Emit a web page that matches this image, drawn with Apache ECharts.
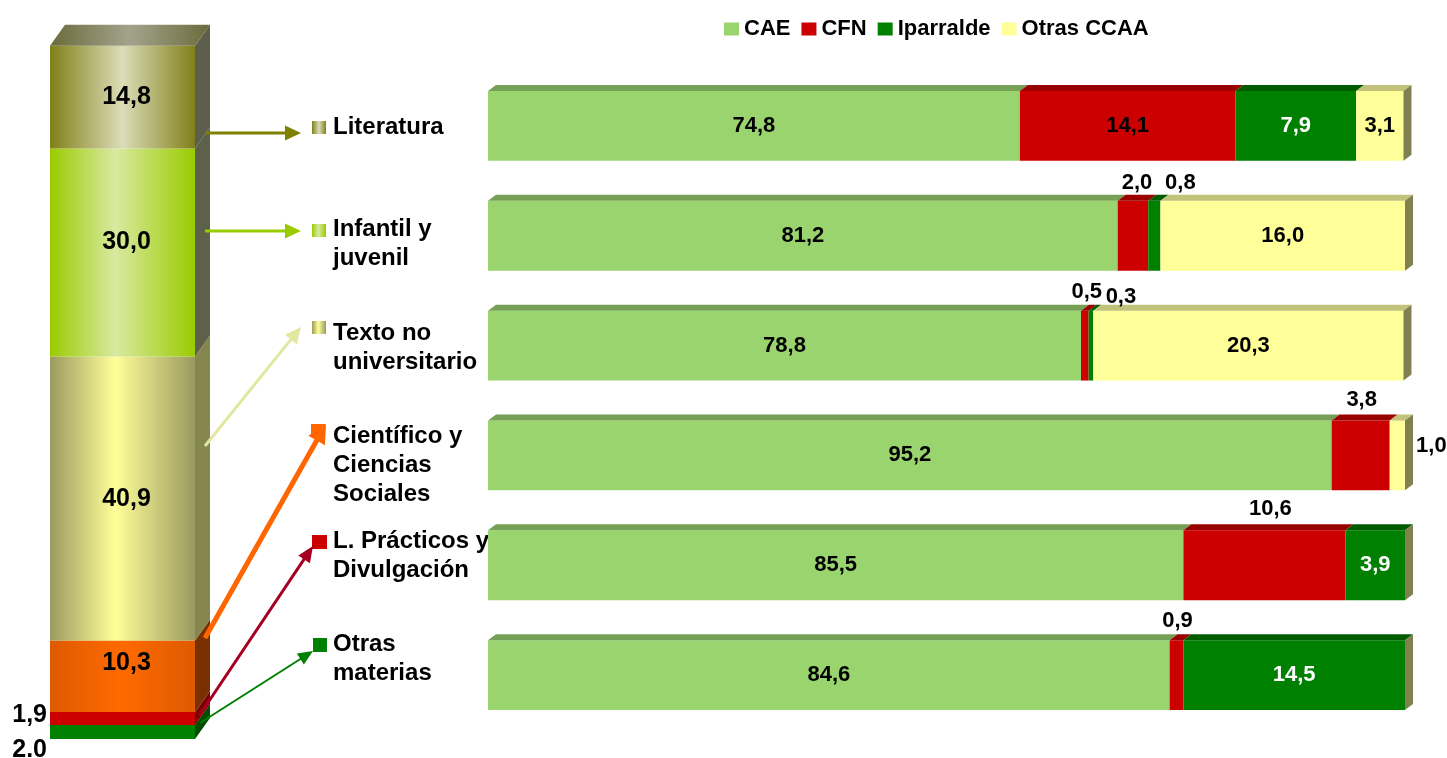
<!DOCTYPE html>
<html>
<head>
<meta charset="utf-8">
<script src="https://cdn.jsdelivr.net/npm/echarts/dist/echarts.min.js"></script>
<style>
  html, body { margin: 0; padding: 0; background: #fff; }
  #chart { width: 1447px; height: 758px; }
</style>
</head>
<body>
<div id="chart"></div>
<script>
// ---- datos ----
const categories = ['Literatura', 'Infantil y\njuvenil', 'Texto no\nuniversitario',
  'Científico y\nCiencias\nSociales', 'L. Prácticos y\nDivulgación', 'Otras\nmaterias'];
const seriesNames = ['CAE', 'CFN', 'Iparralde', 'Otras CCAA'];
const cae       = [74.8, 81.2, 78.8, 95.2, 85.5, 84.6];
const cfn       = [14.1, 2.0, 0.5, 3.8, 10.6, 0.9];
const iparralde = [7.9, 0.8, 0.3, 0, 3.9, 14.5];
const otras     = [3.1, 16.0, 20.3, 1.0, 0, 0];

// columna de la izquierda (de abajo a arriba)
const colValues = [2.0, 1.9, 10.3, 40.9, 30.0, 14.8];
const colLabels = ['2.0', '1,9', '10,3', '40,9', '30,0', '14,8'];

const X_MIN = 40, X_MAX = 100;
const FONT = '"Liberation Sans", Arial, sans-serif';

// ---- estilos ----
const frontColors = ['#9AD46E', '#CC0000', '#008000', '#FFFF99'];
const topColors   = ['#76A055', '#990000', '#005A00', '#C2C27A'];
const sideColor = '#808050';
const labelColors = ['#000', '#000', '#fff', '#000'];
const DX = 8, DY = 6;

// etiquetas fuera de la barra: desplazamiento desde el centro del segmento
const outsideLabels = {
  '1-1': [4, -53], '1-2': [26, -53],
  '2-1': [2, -54], '2-2': [30, -49],
  '3-1': [1, -55], '3-3': [34, -9],
  '4-1': [6, -56],
  '5-1': [1, -54]
};

function hGrad(edge, mid, pos) {
  return { type: 'linear', x: 0, y: 0, x2: 1, y2: 0,
    colorStops: [{ offset: 0, color: edge }, { offset: pos, color: mid }, { offset: 1, color: edge }] };
}
const colFront = [
  '#008000',
  '#CC0000',
  hGrad('#DE5A00', '#FF6A00', 0.5),
  hGrad('#9A9A60', '#FFFF99', 0.45),
  hGrad('#99CC00', '#D9E9A0', 0.45),
  hGrad('#80801A', '#DCDCB8', 0.5)
];
const colSide = ['#004C00', '#7A0000', '#7A3000', '#86864F', '#5D6149', '#5E5E4C'];
const colTop = hGrad('#6B6B3C', '#A3A38C', 0.5);
const CDX = 15, CDY = 21;
const colLabelPos = [
  { side: true, dy: 18 }, { side: true, dy: -3 },
  { side: false, dy: -13 }, { side: false, dy: 1 },
  { side: false, dy: -10 }, { side: false, dy: 0 }
];
// desplazamiento vertical de los nombres de categoría
const labelShift = [1, 8, 2, 10, -9, -16];
const LABEL_GAP = 155;

const fmt = v => v.toFixed(1).replace('.', ',');

// ---- datos de las series apiladas ----
const stackValues = [cae, cfn, iparralde, otras];
function stackData(s) {
  return categories.map((c, i) => {
    let start = 0;
    for (let k = 0; k < s; k++) start += stackValues[k][i];
    const v = stackValues[s][i];
    let last = 1;
    for (let k = s + 1; k < stackValues.length; k++) if (stackValues[k][i] > 0) last = 0;
    return [i, start, start + v, v, s, last];
  });
}

function renderBar(params, api) {
  const cat = api.value(0), v = api.value(3), s = api.value(4), last = api.value(5);
  const start = Math.max(api.value(1), X_MIN), end = api.value(2);
  if (!(v > 0)) return;
  const band = api.size([0, 1])[1];
  const h = band * 0.636;
  const p1 = api.coord([start, cat]), p2 = api.coord([end, cat]);
  const x1 = p1[0], x2 = p2[0], yc = p1[1], y1 = yc - h / 2, y2 = yc + h / 2;
  const children = [
    { type: 'rect', shape: { x: x1, y: y1, width: x2 - x1, height: h }, style: { fill: frontColors[s] } },
    { type: 'polygon', shape: { points: [[x1, y1], [x2, y1], [x2 + DX, y1 - DY], [x1 + DX, y1 - DY]] },
      style: { fill: topColors[s] } }
  ];
  if (last) {
    children.push({ type: 'polygon',
      shape: { points: [[x2, y1], [x2, y2], [x2 + DX, y2 - DY], [x2 + DX, y1 - DY]] },
      style: { fill: sideColor } });
  }
  const off = outsideLabels[cat + '-' + s];
  const lx = (x1 + x2) / 2 + (off ? off[0] : 0);
  const ly = yc + (off ? off[1] : 0);
  children.push({ type: 'text', z2: 10,
    style: { text: fmt(v), x: lx, y: ly, align: 'center', verticalAlign: 'middle',
      fill: off ? '#000' : labelColors[s], font: 'bold 22px ' + FONT } });
  return { type: 'group', children };
}

function renderCatLabel(params, api) {
  const i = params.dataIndex;
  const p = api.coord([X_MIN, api.value(0)]);
  return { type: 'text',
    style: { text: categories[i], x: p[0] - LABEL_GAP, y: p[1] + labelShift[i],
      align: 'left', verticalAlign: 'middle', lineHeight: 29,
      fill: '#000', font: 'bold 24px ' + FONT } };
}

const colData = colValues.map((v, i) => {
  let start = 0;
  for (let k = 0; k < i; k++) start += colValues[k];
  return [0, start, start + v, v];
});

function renderCol(params, api) {
  const i = params.dataIndex;
  const start = api.value(1), end = api.value(2);
  const w = api.size([1, 0])[0];
  const pb = api.coord([0, start]), pt = api.coord([0, end]);
  const x1 = pb[0] - w / 2, x2 = pb[0] + w / 2, yb = pb[1], yt = pt[1];
  const children = [
    { type: 'rect', shape: { x: x1, y: yt, width: w, height: yb - yt }, style: { fill: colFront[i] } },
    { type: 'polygon', shape: { points: [[x2, yt], [x2, yb], [x2 + CDX, yb - CDY], [x2 + CDX, yt - CDY]] },
      style: { fill: colSide[i] } }
  ];
  if (i === colValues.length - 1) {
    children.push({ type: 'polygon',
      shape: { points: [[x1, yt], [x2, yt], [x2 + CDX, yt - CDY], [x1 + CDX, yt - CDY]] },
      style: { fill: colTop } });
  }
  const pos = colLabelPos[i];
  children.push({ type: 'text', z2: 10,
    style: { text: colLabels[i],
      x: pos.side ? x1 - 3 : (x1 + x2) / 2 + 4,
      y: (yt + yb) / 2 + pos.dy,
      align: pos.side ? 'right' : 'center', verticalAlign: 'middle',
      fill: '#000', font: 'bold 25px ' + FONT } });
  return { type: 'group', children };
}

// ---- flechas y marcadores de la izquierda ----
const arrows = [
  [205, 133, 301, 133, '#808000', 3, 16, 15],
  [205, 231, 301, 231, '#99CC00', 3, 16, 15],
  [205, 446, 301, 327, '#E0E8A0', 3, 16, 15],
  [205, 638, 326, 424, '#FF6600', 5, 19, 19],
  [199, 716, 313, 546, '#A50021', 3, 16, 14],
  [200, 723, 313, 651, '#008000', 2, 15, 13]
];
const markers = [
  [312, 121, 14, 13, hGrad('#80801A', '#DCDCB8', 0.5)],
  [312, 224, 14, 13, hGrad('#99CC00', '#D9E9A0', 0.45)],
  [312, 321, 14, 13, hGrad('#9A9A60', '#FFFF99', 0.45)],
  [311, 424, 14, 13, '#FF6600'],
  [312, 535, 15, 14, '#CC0000'],
  [313, 638, 14, 14, '#008000']
];
function arrow(a) {
  const [x1, y1, x2, y2, color, lw, hl, hw] = a;
  const ang = Math.atan2(y2 - y1, x2 - x1), c = Math.cos(ang), s = Math.sin(ang);
  const bx = x2 - hl * c, by = y2 - hl * s;
  return [
    { type: 'line', z: 100, shape: { x1, y1, x2: bx + c, y2: by + s }, style: { stroke: color, lineWidth: lw } },
    { type: 'polygon', z: 100,
      shape: { points: [[x2, y2], [bx - hw / 2 * s, by + hw / 2 * c], [bx + hw / 2 * s, by - hw / 2 * c]] },
      style: { fill: color } }
  ];
}
const graphics = [];
markers.forEach(m => graphics.push({ type: 'rect', z: 99,
  shape: { x: m[0], y: m[1], width: m[2], height: m[3] }, style: { fill: m[4] } }));
arrows.forEach(a => graphics.push(...arrow(a)));

const chart = echarts.init(document.getElementById('chart'));
chart.setOption({
  animation: false,
  legend: {
    data: seriesNames, left: 719, top: 13, icon: 'rect',
    itemWidth: 15, itemHeight: 13, itemGap: 11,
    textStyle: { fontFamily: FONT, fontWeight: 'bold', fontSize: 22, color: '#000' }
  },
  grid: [
    { left: 50, top: 45, width: 145, height: 694 },
    { left: 488, top: 71, width: 917, height: 659 }
  ],
  xAxis: [
    { gridIndex: 0, type: 'category', data: ['total'], show: false },
    { gridIndex: 1, type: 'value', min: X_MIN, max: X_MAX, show: false }
  ],
  yAxis: [
    { gridIndex: 0, type: 'value', min: 0, max: 100, show: false },
    { gridIndex: 1, type: 'category', inverse: true, data: categories, show: false }
  ],
  graphic: graphics,
  series: [
    { type: 'custom', name: 'total', xAxisIndex: 0, yAxisIndex: 0,
      renderItem: renderCol, encode: { x: 0, y: [1, 2] }, data: colData },
    { type: 'custom', name: 'categorias', xAxisIndex: 1, yAxisIndex: 1, clip: false,
      renderItem: renderCatLabel, encode: { y: 0 }, data: categories.map((c, i) => [i]) }
  ].concat(seriesNames.map((n, s) => ({
    type: 'custom', name: n, xAxisIndex: 1, yAxisIndex: 1,
    itemStyle: { color: frontColors[s] },
    renderItem: renderBar, encode: { x: [1, 2], y: 0 }, data: stackData(s)
  })))
});
window.onresize = function () { chart.resize(); };
</script>
</body>
</html>
